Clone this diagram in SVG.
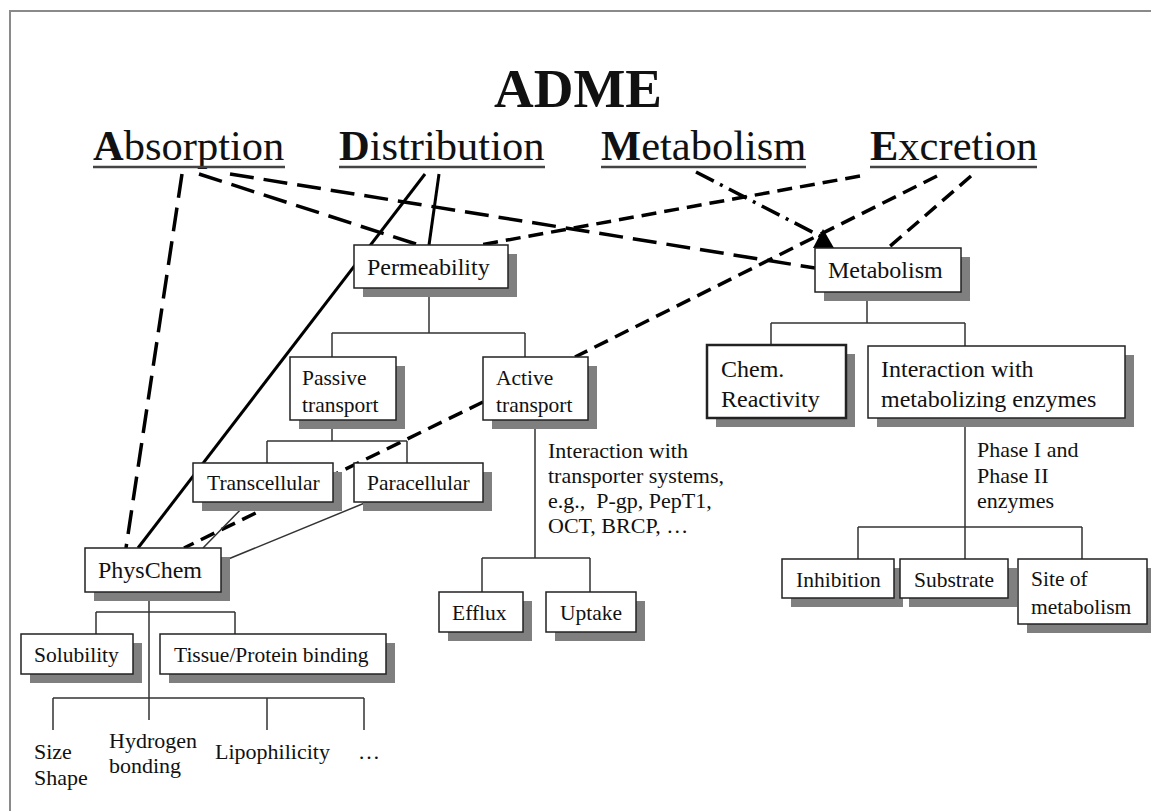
<svg xmlns="http://www.w3.org/2000/svg" width="1151" height="811" viewBox="0 0 1151 811">
<style>
text{font-family:"Liberation Serif","Times New Roman",serif;fill:#111}
.h{font-size:42.5px}
.b{font-size:24px}
.s{font-size:21.5px}
.box{fill:#fff;stroke:#222;stroke-width:1.5}
.thick{stroke-width:2.5}
.sh{fill:#7f7f7f}
.tree{stroke:#333;stroke-width:1.5;fill:none}
.ld{stroke:#000;stroke-width:3.5;stroke-dasharray:24 10;fill:none}
.sd{stroke:#000;stroke-width:3.5;stroke-dasharray:15 8;fill:none}
.dd{stroke:#000;stroke-width:3.5;stroke-dasharray:20 7 3 7;fill:none}
.so{stroke:#000;stroke-width:3;fill:none}
.ul{stroke:#444;stroke-width:2.5}
</style>
<rect width="1151" height="811" fill="#fff"/>
<path d="M9 11H1151M10 11V811" stroke="#8a8a8a" stroke-width="2" fill="none"/>
<g id="title">
<text x="494" y="107" font-size="55" font-weight="bold">ADME</text>
</g>
<g id="headings">
<text class="h" x="93" y="160"><tspan font-weight="bold">A</tspan>bsorption</text>
<text class="h" x="339" y="160"><tspan font-weight="bold">D</tspan>istribution</text>
<text class="h" x="601" y="160"><tspan font-weight="bold">M</tspan>etabolism</text>
<text class="h" x="870" y="160"><tspan font-weight="bold">E</tspan>xcretion</text>
<path class="ul" d="M93 167H285M339 167H545M601 167H806M870 167H1037"/>
</g>
<g id="connectors">
<line class="ld" x1="182" y1="174" x2="126" y2="548"/>
<line class="ld" x1="199" y1="174" x2="419" y2="245"/>
<line class="ld" x1="230" y1="174" x2="815" y2="268"/>
<line class="so" x1="425" y1="174" x2="138" y2="548"/>
<line class="so" x1="439" y1="174" x2="429" y2="245"/>
<line class="dd" x1="696" y1="172" x2="820" y2="236"/>
<polygon points="823,229 813,248 834,248" fill="#000"/>
<line class="sd" x1="860" y1="176" x2="480" y2="245"/>
<line class="sd" x1="937" y1="176" x2="575" y2="357"/>
<line class="sd" x1="971" y1="176" x2="888" y2="248"/>
<line class="sd" x1="483" y1="402" x2="184" y2="548"/>
<path class="tree" d="M429 292V333M332 333H525M332 333V357M525 333V357"/>
<path class="tree" d="M332 420V441M267 441H407M267 441V463M407 441V463"/>
<path class="tree" d="M248 502L203 548M372 500L221 562"/>
<path class="tree" d="M149 592V720M96 612H235M96 612V634M235 612V634"/>
<path class="tree" d="M53 698H364M53 698V730M267 698V730M364 698V730"/>
<path class="tree" d="M535 420V558M482 558H590M482 558V592M590 558V592"/>
<path class="tree" d="M867 292V323M771 323H965M771 323V345M965 323V346"/>
<path class="tree" d="M965 418V559M858 527H1082M858 527V559M1082 527V559"/>
</g>
<g id="permeability">
<rect class="sh" x="363" y="254" width="154" height="43"/>
<rect class="box" x="354" y="245" width="154" height="43"/>
<text class="b" x="367" y="275">Permeability</text>
</g>
<g id="metabolism">
<rect class="sh" x="824" y="257" width="146" height="44"/>
<rect class="box" x="815" y="248" width="146" height="44"/>
<text class="b" x="828" y="278">Metabolism</text>
</g>
<g id="passive">
<rect class="sh" x="299" y="366" width="106" height="63"/>
<rect class="box" x="290" y="357" width="106" height="63"/>
<text class="s" x="302" y="385">Passive</text>
<text class="s" x="302" y="412">transport</text>
</g>
<g id="active">
<rect class="sh" x="492" y="366" width="105" height="63"/>
<rect class="box" x="483" y="357" width="105" height="63"/>
<text class="s" x="496" y="385">Active</text>
<text class="s" x="496" y="412">transport</text>
</g>
<g id="paracellular">
<rect class="sh" x="363" y="472" width="129" height="39"/>
<rect class="box" x="354" y="463" width="129" height="39"/>
<text class="s" x="367" y="490">Paracellular</text>
</g>
<g id="transcellular">
<rect class="sh" x="202" y="472" width="140" height="39"/>
<rect class="box" x="193" y="463" width="140" height="39"/>
<text class="s" x="207" y="490">Transcellular</text>
</g>
<g id="physchem">
<rect class="sh" x="94" y="557" width="136" height="44"/>
<rect class="box" x="85" y="548" width="136" height="44"/>
<text class="b" x="98" y="578">PhysChem</text>
</g>
<g id="solubility">
<rect class="sh" x="30" y="643" width="112" height="40"/>
<rect class="box" x="21" y="634" width="112" height="40"/>
<text class="s" x="34" y="662">Solubility</text>
</g>
<g id="tissue">
<rect class="sh" x="169" y="643" width="226" height="40"/>
<rect class="box" x="160" y="634" width="226" height="40"/>
<text class="s" x="174" y="662" font-size="22">Tissue/Protein binding</text>
</g>
<g id="efflux">
<rect class="sh" x="448" y="601" width="84" height="40"/>
<rect class="box" x="439" y="592" width="84" height="40"/>
<text class="s" x="452" y="620">Efflux</text>
</g>
<g id="uptake">
<rect class="sh" x="555" y="601" width="90" height="40"/>
<rect class="box" x="546" y="592" width="90" height="40"/>
<text class="s" x="560" y="620">Uptake</text>
</g>
<g id="chem">
<rect class="sh" x="716" y="354" width="139" height="73"/>
<rect class="box thick" x="707" y="345" width="139" height="73"/>
<text class="b" x="721" y="377">Chem.</text>
<text class="b" x="721" y="407">Reactivity</text>
</g>
<g id="interaction">
<rect class="sh" x="877" y="355" width="257" height="72"/>
<rect class="box" x="868" y="346" width="257" height="72"/>
<text class="b" x="881" y="377">Interaction with</text>
<text class="b" x="881" y="407">metabolizing enzymes</text>
</g>
<g id="inhibition">
<rect class="sh" x="791" y="568" width="112" height="39"/>
<rect class="box" x="782" y="559" width="112" height="39" stroke-width="2"/>
<text class="s" x="796" y="587">Inhibition</text>
</g>
<g id="substrate">
<rect class="sh" x="909" y="568" width="108" height="39"/>
<rect class="box" x="900" y="559" width="108" height="39" stroke-width="2"/>
<text class="s" x="914" y="587">Substrate</text>
</g>
<g id="site">
<rect class="sh" x="1027" y="568" width="129" height="65"/>
<rect class="box" x="1018" y="559" width="129" height="65" stroke-width="2"/>
<text class="s" x="1031" y="586">Site of</text>
<text class="s" x="1031" y="614">metabolism</text>
</g>
<g id="labels" font-size="22">
<text x="548" y="458" font-size="22">Interaction with</text>
<text x="548" y="483" font-size="22">transporter systems,</text>
<text x="548" y="508" font-size="22" xml:space="preserve">e.g.,  P-gp, PepT1,</text>
<text x="548" y="533" font-size="22">OCT, BRCP, …</text>
<text x="977" y="457" font-size="22">Phase I and</text>
<text x="977" y="483" font-size="22">Phase II</text>
<text x="977" y="508" font-size="22">enzymes</text>
<text x="34" y="759" font-size="22">Size</text>
<text x="34" y="785" font-size="22">Shape</text>
<text x="109" y="748" font-size="22">Hydrogen</text>
<text x="109" y="773" font-size="22">bonding</text>
<text x="215" y="759" font-size="22">Lipophilicity</text>
<text x="358" y="759" font-size="22">…</text>
</g>
</svg>
